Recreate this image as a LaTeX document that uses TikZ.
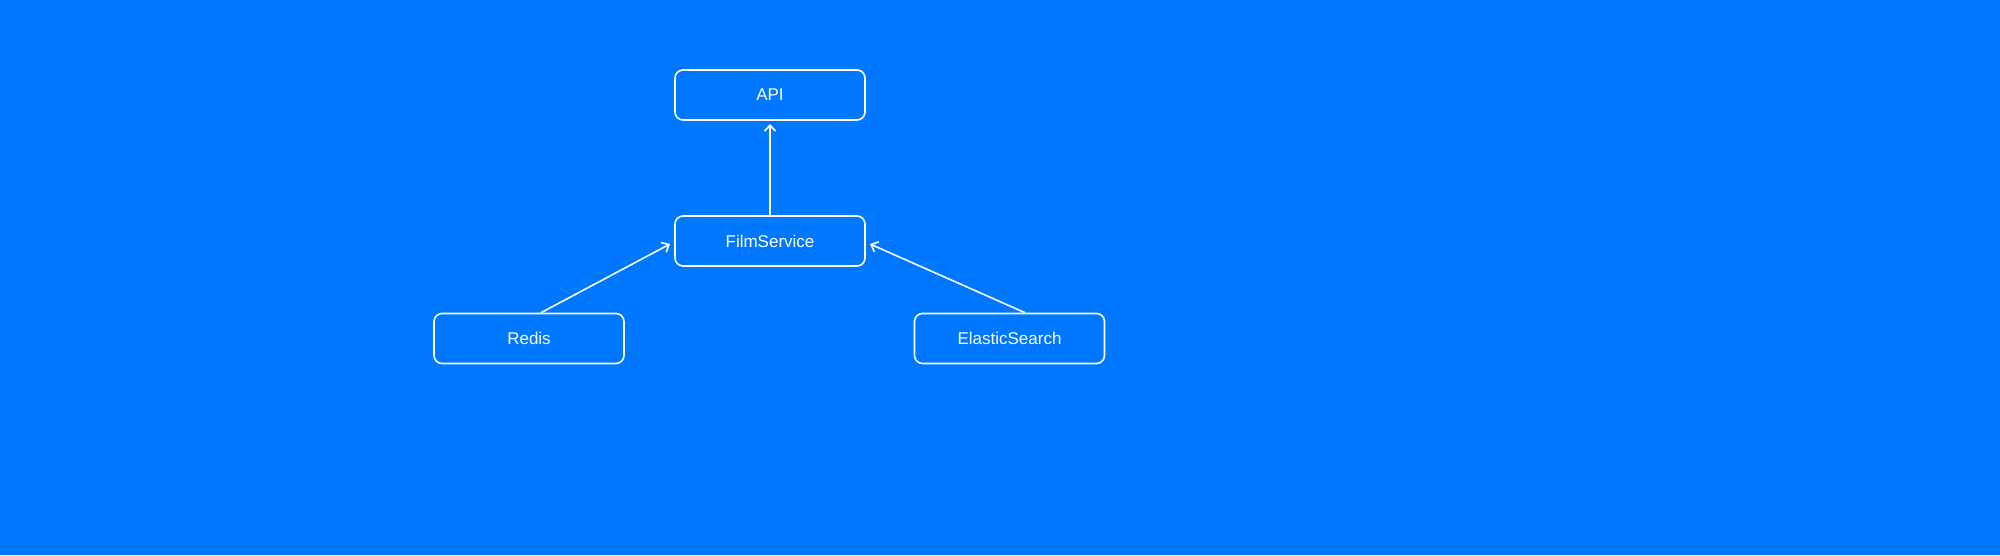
\documentclass[tikz,border=0pt]{standalone}
\usepackage{fontspec}
\setmainfont{Liberation Sans}
\usetikzlibrary{arrows.meta}
\definecolor{bg}{HTML}{0077FF}
\begin{document}
\begin{tikzpicture}[x=1pt,y=-1pt,
  box/.style={draw=white,line width=1.6pt,rounded corners=8pt,minimum width=190pt,minimum height=50pt,inner sep=0pt,text=white,font=\fontsize{17}{20}\selectfont},
  conn/.style={draw=white,line width=1.6pt,-{Straight Barb[length=6pt,width=11pt,line width=1.6pt]}}]
\fill[bg] (0,0) rectangle (2000,555);
\useasboundingbox (0,0) rectangle (2000,555);
\node[box] (api) at (770,95) {API};
\node[box] (fs) at (770,241) {FilmService};
\node[box] (redis) at (529,338.5) {Redis};
\node[box] (es) at (1009.5,338.5) {ElasticSearch};
\coordinate (apib) at (770,124);
\coordinate (fsl) at (670,244);
\coordinate (fsr) at (870,244);
\draw[conn] (fs.north) -- (apib);
\draw[conn] ([xshift=12pt]redis.north) -- (fsl);
\draw[conn] ([xshift=15.5pt]es.north) -- (fsr);
\end{tikzpicture}
\end{document}
